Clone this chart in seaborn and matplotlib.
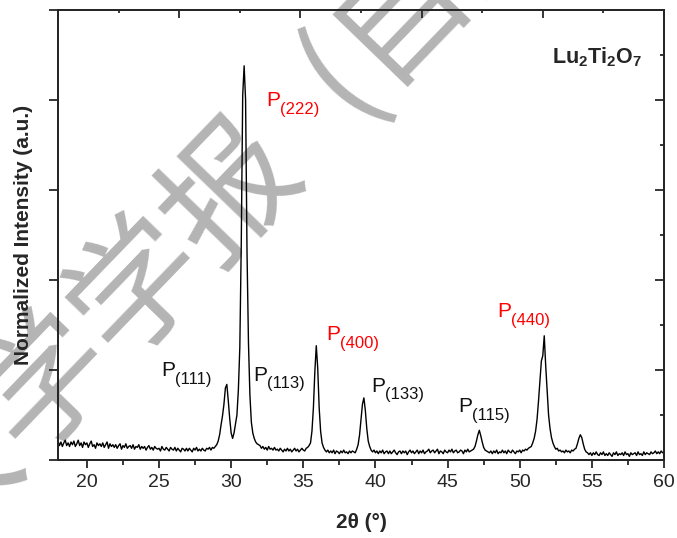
import numpy as np
import pandas as pd
import matplotlib
matplotlib.use("Agg")
import matplotlib.pyplot as plt
from matplotlib.ticker import NullLocator
import seaborn as sns

# ---------------- data ----------------
two_theta_start = 18.0
two_theta_step = 0.1
intensity = [
    # 18.0 - 18.9
    0.21, 0.16, 0.20, 0.15, 0.19, 0.22, 0.16, 0.19, 0.15, 0.20,
    # 19
    0.17, 0.21, 0.15, 0.18, 0.22, 0.16, 0.19, 0.14, 0.20, 0.17,
    # 20
    0.19, 0.14, 0.18, 0.21, 0.15, 0.17, 0.13, 0.19, 0.16, 0.18,
    # 21
    0.15, 0.19, 0.14, 0.17, 0.20, 0.13, 0.18, 0.15, 0.17, 0.14,
    # 22
    0.17, 0.13, 0.16, 0.18, 0.12, 0.16, 0.14, 0.18, 0.13, 0.15,
    # 23
    0.16, 0.13, 0.17, 0.12, 0.15, 0.14, 0.17, 0.12, 0.15, 0.13,
    # 24
    0.15, 0.11, 0.14, 0.16, 0.12, 0.14, 0.11, 0.15, 0.13, 0.12,
    # 25
    0.13, 0.10, 0.15, 0.12, 0.11, 0.14, 0.12, 0.10, 0.14, 0.12,
    # 26
    0.11, 0.14, 0.10, 0.13, 0.11, 0.09, 0.13, 0.12, 0.10, 0.13,
    # 27
    0.10, 0.13, 0.11, 0.09, 0.13, 0.11, 0.14, 0.10, 0.12, 0.10,
    # 28
    0.13, 0.11, 0.10, 0.13, 0.12, 0.14, 0.11, 0.14, 0.13, 0.15,
    # 29
    0.17, 0.21, 0.28, 0.39, 0.49, 0.62, 0.80, 0.84, 0.66, 0.46,
    # 30
    0.30, 0.24, 0.30, 0.40, 0.50, 0.78, 1.25, 2.40, 4.05, 4.38,
    # 31
    4.00, 2.30, 1.30, 0.72, 0.42, 0.30, 0.24, 0.20, 0.18, 0.17,
    # 32
    0.16, 0.13, 0.15, 0.12, 0.14, 0.11, 0.15, 0.12, 0.13, 0.11,
    # 33
    0.14, 0.11, 0.12, 0.10, 0.13, 0.11, 0.09, 0.12, 0.10, 0.13,
    # 34
    0.10, 0.12, 0.09, 0.11, 0.13, 0.10, 0.12, 0.09, 0.11, 0.13,
    # 35
    0.11, 0.10, 0.13, 0.14, 0.16, 0.19, 0.32, 0.58, 0.98, 1.27,
    # 36
    1.02, 0.58, 0.32, 0.19, 0.14, 0.11, 0.09, 0.11, 0.08, 0.10,
    # 37
    0.08, 0.11, 0.07, 0.10, 0.09, 0.07, 0.10, 0.08, 0.11, 0.08,
    # 38
    0.09, 0.07, 0.10, 0.08, 0.10, 0.09, 0.08, 0.12, 0.17, 0.28,
    # 39
    0.45, 0.62, 0.69, 0.55, 0.35, 0.21, 0.15, 0.11, 0.09, 0.11,
    # 40
    0.08, 0.10, 0.07, 0.10, 0.08, 0.11, 0.07, 0.09, 0.10, 0.07,
    # 41
    0.10, 0.07, 0.09, 0.11, 0.08, 0.06, 0.09, 0.10, 0.07, 0.10,
    # 42
    0.08, 0.10, 0.06, 0.09, 0.11, 0.08, 0.10, 0.07, 0.09, 0.11,
    # 43
    0.07, 0.10, 0.08, 0.11, 0.07, 0.09, 0.10, 0.12, 0.08, 0.10,
    # 44
    0.11, 0.08, 0.10, 0.12, 0.07, 0.10, 0.09, 0.07, 0.11, 0.09,
    # 45
    0.08, 0.11, 0.09, 0.12, 0.08, 0.10, 0.11, 0.08, 0.09, 0.11,
    # 46
    0.10, 0.07, 0.11, 0.09, 0.12, 0.09, 0.10, 0.11, 0.12, 0.15,
    # 47
    0.21, 0.28, 0.33, 0.27, 0.20, 0.14, 0.11, 0.10, 0.09, 0.08,
    # 48
    0.10, 0.07, 0.10, 0.08, 0.11, 0.07, 0.09, 0.08, 0.11, 0.08,
    # 49
    0.10, 0.07, 0.11, 0.09, 0.08, 0.11, 0.09, 0.07, 0.10, 0.09,
    # 50
    0.11, 0.08, 0.11, 0.10, 0.12, 0.11, 0.13, 0.14, 0.15, 0.19,
    # 51
    0.24, 0.32, 0.45, 0.65, 0.88, 1.10, 1.16, 1.38, 1.05, 0.78,
    # 52
    0.50, 0.35, 0.25, 0.19, 0.15, 0.12, 0.13, 0.10, 0.11, 0.09,
    # 53
    0.10, 0.08, 0.11, 0.09, 0.10, 0.08, 0.11, 0.10, 0.12, 0.13,
    # 54
    0.18, 0.24, 0.28, 0.25, 0.18, 0.12, 0.09, 0.08, 0.06, 0.08,
    # 55
    0.05, 0.08, 0.06, 0.09, 0.06, 0.05, 0.08, 0.06, 0.09, 0.05,
    # 56
    0.07, 0.05, 0.08, 0.06, 0.04, 0.08, 0.06, 0.09, 0.05, 0.07,
    # 57
    0.06, 0.08, 0.05, 0.09, 0.06, 0.07, 0.04, 0.08, 0.06, 0.07,
    # 58
    0.08, 0.05, 0.09, 0.06, 0.07, 0.05, 0.09, 0.06, 0.08, 0.07,
    # 59
    0.06, 0.09, 0.07, 0.08, 0.10, 0.07, 0.09, 0.07, 0.10, 0.08,
    # 60
    0.09,
]
two_theta = np.round(two_theta_start + two_theta_step * np.arange(len(intensity)), 2)

peak_labels = ["(111)", "(113)", "(222)", "(400)", "(133)", "(115)", "(440)"]
label_is_red = [False, False, True, True, False, False, True]
label_x = [25.14, 31.55, 32.40, 36.58, 39.70, 45.74, 48.45]
label_y = [0.93, 0.88, 3.93, 1.33, 0.76, 0.53, 1.59]

x_ticks = [20, 25, 30, 35, 40, 45, 50, 55, 60]

# ---------------- style ----------------
sns.set_style("ticks")
plt.rcParams["font.family"] = ["Liberation Sans", "DejaVu Sans"]
plt.rcParams["mathtext.fontset"] = "custom"
plt.rcParams["mathtext.rm"] = "Liberation Sans"
plt.rcParams["mathtext.it"] = "Liberation Sans:italic"
plt.rcParams["mathtext.bf"] = "Liberation Sans:bold"

fig = plt.figure(figsize=(6.77, 5.38), dpi=100)
ax = fig.add_axes([0.0857, 0.145, 0.8951, 0.8364])
ax.patch.set_visible(False)

df = pd.DataFrame({"two_theta": two_theta, "intensity": intensity})
sns.lineplot(data=df, x="two_theta", y="intensity", ax=ax, color="black",
             linewidth=1.0, estimator=None, sort=False)

ax.set_xlim(18, 60)
ax.set_ylim(0, 5)
ax.set_xticks(x_ticks)
ax.set_xticks(np.arange(22.5, 60, 5), minor=True)
ax.set_yticks(range(0, 6))
ax.set_yticklabels([])
ax.yaxis.set_minor_locator(NullLocator())
ax.tick_params(axis="x", which="major", direction="out", length=6, width=1.3,
               labelsize=14, pad=4, top=False)
ax.tick_params(axis="x", which="minor", direction="out", length=3.6, width=1.3, top=False)
ax.tick_params(axis="y", which="major", direction="out", length=6.5, width=1.3,
               left=True, right=False)
for s in ax.spines.values():
    s.set_linewidth(1.4)
    s.set_visible(True)

# right axis: inward ticks
ax_r = ax.twinx()
ax_r.set_ylim(0, 5)
ax_r.set_yticks(range(0, 6))
ax_r.set_yticks(np.arange(0.5, 5, 1), minor=True)
ax_r.tick_params(axis="y", which="major", direction="in", length=6.5, width=1.3,
                 labelright=False)
ax_r.tick_params(axis="y", which="minor", direction="in", length=3, width=1.3)
# top axis: inward ticks
ax_t = ax.twiny()
ax_t.set_xlim(18, 60)
ax_t.set_xticks(np.linspace(18, 60, 6))
ax_t.set_xticks(np.linspace(18, 60, 11), minor=True)
ax_t.tick_params(axis="x", which="major", direction="in", length=5.5, width=1.3,
                 labeltop=False)
ax_t.tick_params(axis="x", which="minor", direction="in", length=2.5, width=1.3)
for a in (ax_r, ax_t):
    for s in a.spines.values():
        s.set_linewidth(1.4)

ax.set_xlabel("2θ (°)", fontsize=15, fontweight="bold")
ax.set_ylabel("Normalized Intensity (a.u.)", fontsize=15, fontweight="bold")
ax.xaxis.set_label_coords(0.5, -0.117)
ax.yaxis.set_label_coords(-0.042, 0.5)

# peak labels
for lab, red, lx, ly in zip(peak_labels, label_is_red, label_x, label_y):
    c = "#ff0000" if red else "#111111"
    ax.text(lx, ly, "P", fontsize=15, color=c, ha="left", va="baseline")
    ax.annotate(lab, xy=(lx, ly), xytext=(10.0, -5.5), textcoords="offset points",
                fontsize=12, color=c, ha="left", va="baseline")

ax.text(0.9637, 0.882, r"$\mathbf{Lu_2Ti_2O_7}$", transform=ax.transAxes,
        fontsize=15.5, ha="right", va="baseline")

# watermark
fig.text(-0.135, 0.012, "大学学报\u2002(自然科学版)", fontsize=96, rotation=46,
         rotation_mode="anchor", ha="left", va="center", color="#b4b4b4",
         family=["Noto Sans CJK SC", "DejaVu Sans"], zorder=-1)

fig.savefig("out.png", dpi=100)
